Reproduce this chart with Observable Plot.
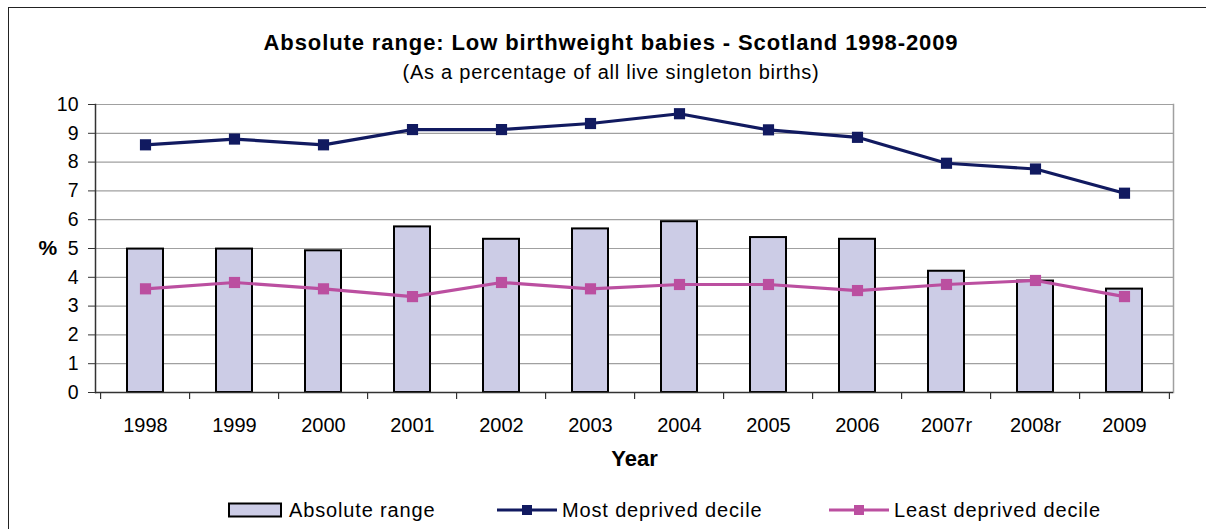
<!DOCTYPE html>
<html>
<head>
<meta charset="utf-8">
<script src="https://cdn.jsdelivr.net/npm/d3@7"></script>
<script src="https://cdn.jsdelivr.net/npm/@observablehq/plot@0.6"></script>
<style>
  html, body { margin: 0; padding: 0; background: #fff; overflow: hidden; }
  body { width: 1206px; height: 529px; position: relative; font-family: "Liberation Sans", Arial, sans-serif; color: #000; }
  #frame { position: absolute; left: 8px; top: 7px; width: 1210px; height: 540px; border-left: 1.5px solid #222; border-top: 1.5px solid #222; box-sizing: border-box; }
  #title { position: absolute; left: 0; width: 1222px; top: 30px; text-align: center; font-weight: bold; font-size: 22px; letter-spacing: 0.9px; }
  #subtitle { position: absolute; left: 0; width: 1222px; top: 61px; text-align: center; font-size: 20px; letter-spacing: 0.75px; }
  #chart { position: absolute; left: 0; top: 0; }
  #legend { position: absolute; top: 498px; left: 0; width: 1206px; height: 24px; font-size: 20px; letter-spacing: 0.85px; }
  .li { position: absolute; top: 0; display: flex; align-items: center; height: 24px; white-space: nowrap; }
</style>
</head>
<body>
<div id="frame"></div>
<div id="chart"></div>
<div id="title">Absolute range: Low birthweight babies - Scotland 1998-2009</div>
<div id="subtitle">(As a percentage of all live singleton births)</div>
<div id="legend"></div>
<script>
const years = ["1998","1999","2000","2001","2002","2003","2004","2005","2006","2007r","2008r","2009"];
const absoluteRange = [4.98, 4.98, 4.92, 5.75, 5.32, 5.68, 5.93, 5.38, 5.32, 4.21, 3.87, 3.59];
const mostDeprived = [8.6, 8.8, 8.6, 9.13, 9.13, 9.34, 9.68, 9.12, 8.86, 7.96, 7.76, 6.92];
const leastDeprived = [3.6, 3.82, 3.6, 3.33, 3.82, 3.6, 3.75, 3.75, 3.54, 3.75, 3.89, 3.33];
const yTicks = [0,1,2,3,4,5,6,7,8,9,10];

const barColor = "#cccce6";
const navy = "#111a60";
const pink = "#bb4fa0";

const data = years.map((y, i) => ({year: y, range: absoluteRange[i], most: mostDeprived[i], least: leastDeprived[i]}));

const W = 1206, H = 480;
const mL = 95, mR = W - 1173, mT = 104, mB = H - 392;
const bandPx = (W - mL - mR) / years.length;

const chart = Plot.plot({
  width: W,
  height: H,
  marginLeft: mL,
  marginRight: mR,
  marginTop: mT,
  marginBottom: mB,
  style: {fontFamily: "Liberation Sans, Arial, sans-serif", fontSize: "19px", color: "#000", background: "transparent"},
  x: {type: "band", domain: years, paddingInner: 0.6, paddingOuter: 0.3, align: 0.5, label: null},
  y: {domain: [0, 10], label: null},
  marks: [
    Plot.gridY(yTicks, {stroke: "#a0a0a0", strokeOpacity: 1, strokeWidth: 1.2}),
    Plot.frame({anchor: "right", stroke: "#a0a0a0", strokeWidth: 1.5}),
    Plot.barY(data, {x: "year", y: "range", fill: barColor, stroke: "#000", strokeWidth: 2}),
    Plot.line(data, {x: "year", y: "most", stroke: navy, strokeWidth: 3.2}),
    Plot.dot(data, {x: "year", y: "most", symbol: "square", r: 6.3, fill: navy, stroke: "none"}),
    Plot.line(data, {x: "year", y: "least", stroke: pink, strokeWidth: 3.2}),
    Plot.dot(data, {x: "year", y: "least", symbol: "square", r: 6.3, fill: pink, stroke: "none"}),
    Plot.frame({anchor: "left", stroke: "#333", strokeWidth: 1.5}),
    Plot.ruleY([0], {stroke: "#333", strokeWidth: 1.5}),
    Plot.axisY(yTicks, {tickSize: 7, tickPadding: 10, stroke: "#333", fontSize: 19.5}),
    Plot.axisX({tickSize: 0, tickPadding: 25, fontSize: 20, style: {letterSpacing: "0.5px"}}),
    Plot.ruleX(data, {x: "year", y1: 0, y2: 0, dx: -bandPx / 2, insetBottom: -7, stroke: "#333", strokeWidth: 1.2}),
    Plot.ruleX([years[years.length - 1]], {x: d => d, y1: 0, y2: 0, dx: bandPx / 2, insetBottom: -7, stroke: "#333", strokeWidth: 1.2}),
    Plot.text(["Year"], {frameAnchor: "bottom", dy: 73, text: d => d, fontWeight: "bold", fontSize: 22}),
    Plot.text(["%"], {frameAnchor: "left", dx: -57, text: d => d, fontWeight: "bold", fontSize: 21})
  ]
});
document.getElementById("chart").appendChild(chart);

// Legend
const legendItems = [
  {label: "Absolute range", type: "bar", color: barColor, left: 228},
  {label: "Most deprived decile", type: "line", color: navy, left: 497},
  {label: "Least deprived decile", type: "line", color: pink, left: 829}
];
const legend = document.getElementById("legend");
for (const it of legendItems) {
  const div = document.createElement("div");
  div.className = "li";
  div.style.left = it.left + "px";
  let sw;
  if (it.type === "bar") {
    sw = `<svg width="56" height="24" style="margin-right:5px"><rect x="1" y="5.5" width="52" height="13" fill="${it.color}" stroke="#000" stroke-width="2"/></svg>`;
  } else {
    sw = `<svg width="62" height="24" style="margin-right:3px"><line x1="0" y1="12" x2="60" y2="12" stroke="${it.color}" stroke-width="3"/><rect x="25" y="7" width="10" height="10" fill="${it.color}"/></svg>`;
  }
  div.innerHTML = sw + `<span>${it.label}</span>`;
  legend.appendChild(div);
}
</script>
</body>
</html>
